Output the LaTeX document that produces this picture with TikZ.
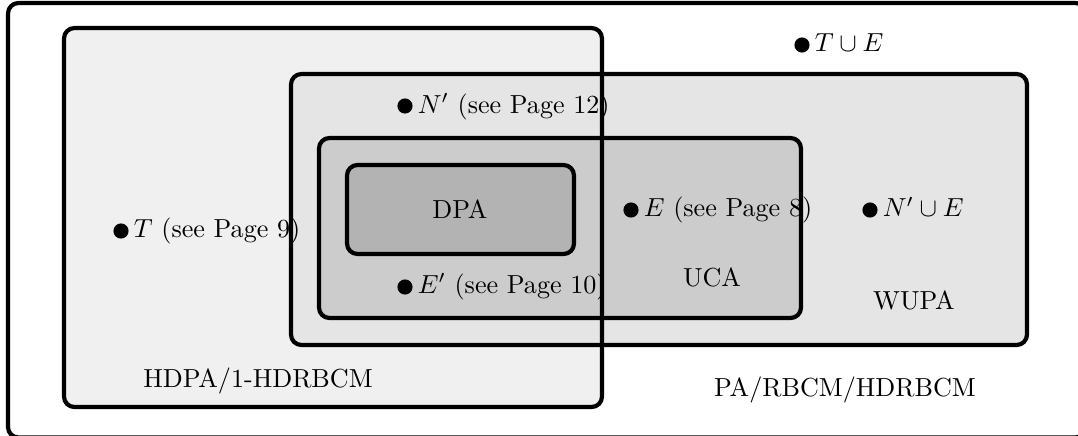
\documentclass[tikz,border=0pt]{standalone}
\usetikzlibrary{positioning}
\definecolor{hdpafill}{RGB}{240,240,240}
\definecolor{wupafill}{RGB}{229,229,229}
\definecolor{ucafill}{RGB}{204,204,204}
\definecolor{dpafill}{RGB}{179,179,179}
\tikzset{
  setbox/.style={ultra thick, rounded corners=4pt},
  ptdot/.style={circle, fill=black, inner sep=0pt, minimum size=5.8pt},
  ptlbl/.style={inner sep=0pt, anchor=base west},
  setname/.style={inner sep=0pt, anchor=base}
}
\begin{document}
\begin{tikzpicture}[x=0.3831pt, y=-0.3831pt]
\useasboundingbox (0,0) rectangle (1078,435);
% outer frame
\draw[setbox, fill=white] (8,3) rectangle (1086,437.5);
% fills
\fill[hdpafill, rounded corners=4pt] (64,28) rectangle (602,407);
\draw[setbox, fill=wupafill] (291,74) rectangle (1027,345);
\draw[setbox, fill=ucafill] (319,138) rectangle (801,318);
\draw[setbox, fill=dpafill] (347,165) rectangle (574,254);
% HDPA border on top
\draw[setbox] (64,28) rectangle (602,407);
% points
\node[ptdot] (TE) at (802,45) {};
\node[ptlbl] (TEl) at ([xshift=1.6pt]TE.east |- 0,51.7) {$T\cup E$};
\node[ptdot] (Np) at (405,106) {};
\node[ptlbl] (Npl) at ([xshift=1.6pt]Np.east |- 0,113) {$N'$ (see Page 12)};
\node[ptdot] (E) at (631,210) {};
\node[ptlbl] (El) at ([xshift=1.6pt]E.east |- 0,216.7) {$E$ (see Page 8)};
\node[ptdot] (NE) at (870,210) {};
\node[ptlbl] (NEl) at ([xshift=1.6pt]NE.east |- 0,216.7) {$N'\cup E$};
\node[ptdot] (T) at (121,231) {};
\node[ptlbl] (Tl) at ([xshift=1.6pt]T.east |- 0,237.7) {$T$ (see Page 9)};
\node[ptdot] (Ep) at (405,287) {};
\node[ptlbl] (Epl) at ([xshift=1.6pt]Ep.east |- 0,293) {$E'$ (see Page 10)};
% set names
\node[setname] (dpa) at (460,218) {DPA};
\node[setname] (uca) at (712,286.7) {UCA};
\node[setname] (wupa) at (914,309) {WUPA};
\node[setname] (hdpa) at (258,387.7) {HDPA/1-HDRBCM};
\node[setname] (pa) at (845,396.7) {PA/RBCM/HDRBCM};
\end{tikzpicture}
\end{document}
